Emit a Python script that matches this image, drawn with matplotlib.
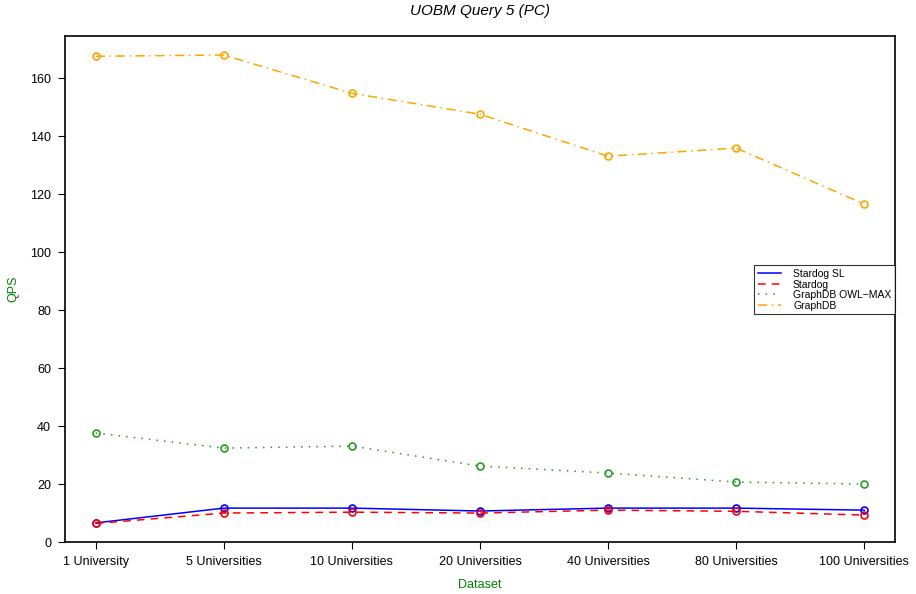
import matplotlib.pyplot as plt

plt.rcParams['font.family'] = ['Liberation Sans', 'DejaVu Sans']

datasets = ["1 University", "5 Universities", "10 Universities", "20 Universities",
            "40 Universities", "80 Universities", "100 Universities"]
stardog_sl = [6.6, 11.7, 11.7, 10.7, 11.7, 11.7, 11.0]
stardog = [6.4, 10.0, 10.3, 10.0, 11.0, 10.6, 9.3]
graphdb_owlmax = [37.6, 32.4, 33.1, 26.2, 23.8, 20.7, 20.0]
graphdb = [167.6, 168.0, 154.8, 147.6, 133.1, 135.9, 116.6]

x = list(range(1, len(datasets) + 1))

fig = plt.figure(figsize=(9.16, 5.94), dpi=100)
ax = fig.add_axes([0.071, 0.0875, 0.906, 0.8515])

mk = dict(marker='o', markerfacecolor='none', markersize=5, markeredgewidth=1.2, linewidth=1.1)
ax.plot(x, stardog_sl, color='blue', linestyle='-', label='Stardog SL', **mk)
ax.plot(x, stardog, color='red', linestyle=(0, (5, 4)), label='Stardog', **mk)
ax.plot(x, graphdb_owlmax, color='#2a9a2a', linestyle=(0, (1, 4)), label='GraphDB OWL\u2212MAX', **mk)
ax.plot(x, graphdb, color='orange', linestyle=(0, (6, 3, 1, 3)), label='GraphDB', **mk)

ax.set_xlim(0.76, 7.24)
ax.set_ylim(0, 174.5)
ax.set_xticks(x)
ax.set_xticklabels(datasets)
ax.set_yticks(range(0, 161, 20))
ax.tick_params(labelsize=9, length=5, direction='out', pad=5)
for s in ax.spines.values():
    s.set_linewidth(1.2)

ax.set_title('UOBM Query 5 (PC)', fontstyle='italic', fontsize=11, pad=15)
ax.set_xlabel('Dataset', color='green', fontsize=9)
ax.set_ylabel('QPS', color='green', fontsize=9)
ax.xaxis.set_label_coords(0.5, -0.073)
ax.yaxis.set_label_coords(-0.055, 0.5)

leg = ax.legend(loc='upper right', bbox_to_anchor=(1.0, 0.547), borderaxespad=0,
                fontsize=7.5, frameon=True, fancybox=False, edgecolor='black',
                handlelength=2.2, handletextpad=1.2, labelspacing=0.05, borderpad=0.35)
leg.get_frame().set_linewidth(0.8)
for h in leg.legend_handles:
    h.set_marker('')

plt.savefig('out.png')
